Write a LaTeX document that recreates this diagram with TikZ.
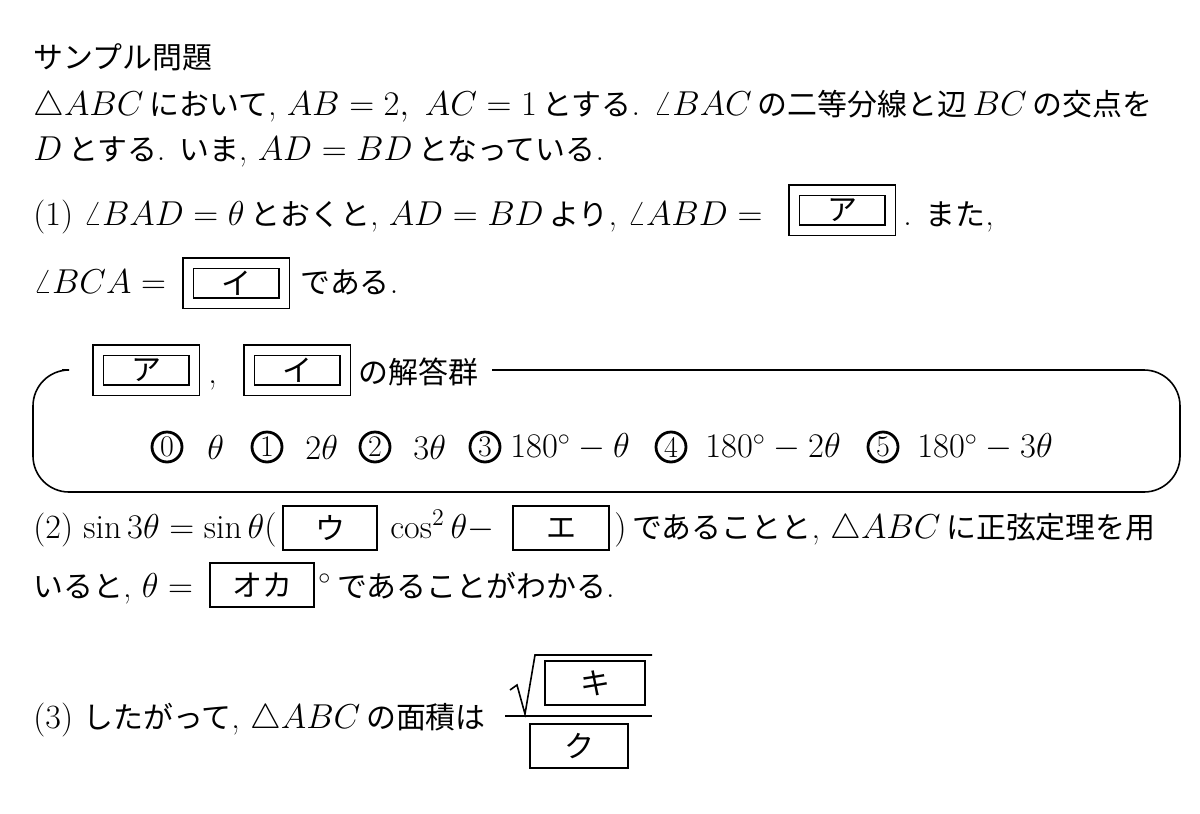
\documentclass[tikz,border=0pt]{standalone}
\usepackage{fontspec}
\usepackage{amsmath}
\newfontfamily\jp[Scale=0.88]{Noto Sans CJK JP}
\newfontfamily\jpbox{Noto Sans CJK JP}
\usetikzlibrary{positioning}

\tikzset{
	txt/.style={anchor=base west, inner sep=0pt, font=\fontsize{17}{20}\selectfont},
	dbox/.style={draw, double, double distance=4.5pt, line width=0.8pt, minimum width=48pt, minimum height=20pt, font=\fontsize{15}{16}\jpbox},
	sbox/.style={draw, line width=1pt, minimum width=47pt, minimum height=22pt, font=\fontsize{15}{16}\jpbox},
	num/.style={draw, circle, line width=1.4pt, inner sep=0.6pt, minimum size=15pt, font=\fontsize{15}{16}\selectfont},
	choice/.style={anchor=west, inner sep=0pt, font=\fontsize{17}{20}\selectfont}
}

\begin{document}
\begin{tikzpicture}[x=0.5pt, y=-0.5pt]

	\useasboundingbox (0,0) rectangle (1200,814);

	% heading and statement
	\node[txt] (title) at (33,68) {\jp サンプル問題};
	\node[txt] (line1) at (33,115) {$\triangle ABC$\,{\jp において}, $AB=2,\ AC=1$\,{\jp とする}. $\angle BAC$\,{\jp の二等分線と辺}\,$BC$\,{\jp の交点を}};
	\node[txt] (line2) at (33,160) {$D$\,{\jp とする}. {\jp いま}, $AD=BD$\,{\jp となっている}.};

	% part (1)
	\node[txt] (q1a) at (33,225) {(1) $\angle BAD=\theta$\,{\jp とおくと}, $AD=BD$\,{\jp より}, $\angle ABD=$};
	\node[dbox] (boxA) at (842,210) {ア};
	\node[txt] (q1b) at (903,225) {. {\jp また},};
	\node[txt] (q1c) at (33,293) {$\angle BCA=$};
	\node[dbox] (boxI) at (236,283) {イ};
	\node[txt] (q1d) at (300,293) {{\jp である}.};

	% answer group frame
	\draw[line width=0.8pt, rounded corners=18pt] (62,370) -- (33,370) -- (33,492) -- (1180,492) -- (1180,370) -- (492,370);
	\node[dbox] (gA) at (146,370) {ア};
	\node[txt] (comma) at (208,383) {,};
	\node[dbox] (gI) at (297,370) {イ};
	\node[txt] (group) at (358,383) {\jp の解答群};

	% choices
	\node[num] (n0) at (167,447) {0};
	\node[choice] (c0) at (207,447) {$\theta$};
	\node[num] (n1) at (267,447) {1};
	\node[choice] (c1) at (305,447) {$2\theta$};
	\node[num] (n2) at (375,447) {2};
	\node[choice] (c2) at (413,447) {$3\theta$};
	\node[num] (n3) at (485,447) {3};
	\node[choice] (c3) at (510,447) {$180^\circ-\theta$};
	\node[num] (n4) at (671,447) {4};
	\node[choice] (c4) at (705,447) {$180^\circ-2\theta$};
	\node[num] (n5) at (883,447) {5};
	\node[choice] (c5) at (917,447) {$180^\circ-3\theta$};

	% part (2)
	\node[txt] (q2a) at (33,538) {(2) $\sin 3\theta=\sin\theta($};
	\node[sbox] (boxU) at (330,528) {ウ};
	\node[txt] (q2b) at (390,538) {$\cos^2\theta-$};
	\node[sbox, minimum width=48pt] (boxE) at (561,528) {エ};
	\node[txt] (q2c) at (614,538) {$)$\,{\jp であることと}, $\triangle ABC$\,{\jp に正弦定理を用}};
	\node[txt] (q2d) at (33,597) {{\jp いると}, $\theta=$};
	\node[sbox, minimum width=52pt] (boxOK) at (262,585) {オカ};
	\node[txt] (q2e) at (318,597) {$^\circ$\,{\jp であることがわかる}.};

	% part (3)
	\node[txt] (q3) at (33,728) {(3) {\jp したがって}, $\triangle ABC$\,{\jp の面積は}};
	\node[sbox, minimum width=50pt] (boxK) at (595,683) {キ};
	\draw[line width=0.8pt] (510,690) -- (517,685) -- (525,714) -- (535,655) -- (652,655);
	\draw[line width=0.8pt] (505,716) -- (652,716);
	\node[sbox, minimum width=49pt] (boxKu) at (579,746) {ク};

\end{tikzpicture}
\end{document}
